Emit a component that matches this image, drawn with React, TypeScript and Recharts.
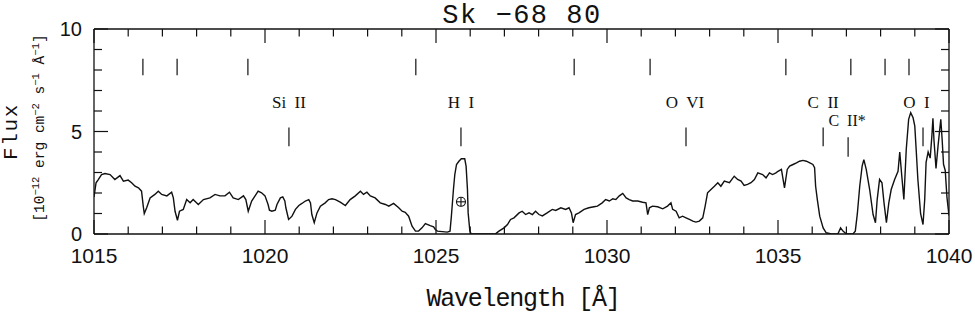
import { ComposedChart, Line, XAxis, YAxis, Scatter, ReferenceLine } from 'recharts'

// spectrum of Sk -68 80 (wavelength in Å, flux in 1e-12 erg/cm2/s/Å)
const WAVE = [
  1015.0, 1015.06, 1015.13, 1015.22, 1015.32, 1015.47, 1015.61, 1015.76, 1015.86, 1016.0,
  1016.1, 1016.2, 1016.3, 1016.39, 1016.44, 1016.47, 1016.54, 1016.64, 1016.78, 1016.88,
  1016.98, 1017.13, 1017.27, 1017.32, 1017.37, 1017.44, 1017.5, 1017.61, 1017.71, 1017.81,
  1017.9, 1018.05, 1018.2, 1018.39, 1018.54, 1018.68, 1018.83, 1018.96, 1019.07, 1019.22,
  1019.37, 1019.44, 1019.51, 1019.61, 1019.71, 1019.8, 1019.9, 1020.0, 1020.09, 1020.13,
  1020.2, 1020.3, 1020.35, 1020.45, 1020.52, 1020.58, 1020.61, 1020.69, 1020.79, 1020.89,
  1020.99, 1021.08, 1021.18, 1021.28, 1021.33, 1021.37, 1021.44, 1021.52, 1021.62, 1021.76,
  1021.86, 1021.96, 1022.06, 1022.2, 1022.35, 1022.49, 1022.64, 1022.79, 1022.88, 1022.98,
  1023.08, 1023.22, 1023.37, 1023.52, 1023.62, 1023.76, 1023.91, 1024.01, 1024.1, 1024.2,
  1024.3, 1024.4, 1024.49, 1024.59, 1024.69, 1024.83, 1024.93, 1024.98, 1025.04, 1025.33,
  1025.41, 1025.45, 1025.51, 1025.55, 1025.6, 1025.67, 1025.74, 1025.84, 1025.88, 1025.92,
  1025.94, 1025.99, 1026.03, 1026.5, 1026.75, 1026.84, 1026.99, 1027.09, 1027.18, 1027.28,
  1027.43, 1027.52, 1027.62, 1027.72, 1027.82, 1027.91, 1028.01, 1028.11, 1028.25, 1028.4,
  1028.5, 1028.65, 1028.79, 1028.89, 1028.96, 1029.01, 1029.08, 1029.18, 1029.33, 1029.47,
  1029.62, 1029.72, 1029.86, 1029.96, 1030.07, 1030.17, 1030.26, 1030.36, 1030.46, 1030.56,
  1030.65, 1030.75, 1030.9, 1031.04, 1031.14, 1031.19, 1031.24, 1031.33, 1031.48, 1031.63,
  1031.77, 1031.87, 1031.92, 1032.02, 1032.11, 1032.21, 1032.31, 1032.41, 1032.51, 1032.6,
  1032.7, 1032.8, 1032.87, 1032.94, 1033.04, 1033.14, 1033.24, 1033.33, 1033.43, 1033.58,
  1033.72, 1033.82, 1033.92, 1034.01, 1034.11, 1034.21, 1034.31, 1034.41, 1034.55, 1034.65,
  1034.75, 1034.84, 1034.94, 1035.0, 1035.1, 1035.19, 1035.27, 1035.34, 1035.44, 1035.54,
  1035.63, 1035.73, 1035.83, 1035.93, 1036.02, 1036.07, 1036.1, 1036.15, 1036.22, 1036.32,
  1036.41, 1036.56, 1036.75, 1036.83, 1036.9, 1037.0, 1037.19, 1037.26, 1037.32, 1037.39,
  1037.46, 1037.51, 1037.58, 1037.68, 1037.78, 1037.85, 1037.9, 1037.97, 1038.04, 1038.1,
  1038.17, 1038.24, 1038.31, 1038.41, 1038.51, 1038.56, 1038.62, 1038.68, 1038.75, 1038.82,
  1038.88, 1038.95, 1039.0, 1039.04, 1039.09, 1039.17, 1039.24, 1039.29, 1039.33, 1039.39,
  1039.45, 1039.5, 1039.53, 1039.56, 1039.62, 1039.68, 1039.76, 1039.8, 1039.84, 1039.89,
  1039.94, 1040.0,
]
const FLUX = [
  1.8, 2.5, 2.66, 2.9, 2.95, 2.9, 2.66, 2.85, 2.58, 2.63,
  2.5, 2.33, 2.25, 2.09, 1.36, 1.0, 1.28, 1.76, 1.93, 2.09,
  1.93, 1.86, 2.04, 1.76, 1.11, 0.67, 1.11, 1.2, 1.68, 1.52,
  1.68, 1.44, 1.68, 1.76, 1.93, 1.86, 1.86, 2.04, 1.76, 1.68,
  1.86, 1.68, 1.11, 1.61, 1.86, 2.09, 2.01, 1.86, 1.44, 1.16,
  1.11, 1.16, 1.44, 1.76, 1.81, 1.61, 1.28, 0.71, 0.87, 1.2,
  1.39, 1.49, 1.61, 1.68, 1.52, 0.95, 0.55, 1.03, 1.36, 1.52,
  1.68, 1.72, 1.68, 1.55, 1.39, 1.68, 1.86, 2.09, 1.93, 2.04,
  1.86, 1.76, 1.52, 1.44, 1.36, 1.49, 1.28, 1.11, 1.06, 0.87,
  0.38, 0.14, 0.14, 0.3, 0.51, 0.41, 0.35, 0.22, 0.14, 0.09,
  0.14, 0.87, 2.17, 2.9, 3.39, 3.55, 3.67, 3.67, 3.31, 2.17,
  1.03, 0.14, 0.0, 0.0, 0.02, 0.14, 0.3, 0.46, 0.71, 0.79,
  1.03, 1.11, 0.95, 1.03, 0.95, 1.11, 0.95, 0.88, 1.03, 1.2,
  1.15, 1.28, 1.2, 1.28, 1.03, 0.55, 0.95, 1.03, 1.2, 1.28,
  1.33, 1.36, 1.52, 1.68, 1.61, 1.72, 1.68, 1.86, 1.98, 1.76,
  1.68, 1.61, 1.61, 1.55, 1.52, 0.95, 1.28, 1.36, 1.33, 1.23,
  1.36, 1.52, 1.2, 1.11, 0.79, 0.87, 0.79, 0.71, 0.63, 0.58,
  0.63, 0.79, 1.36, 2.01, 2.17, 2.33, 2.5, 2.33, 2.58, 2.5,
  2.82, 2.66, 2.58, 2.37, 2.42, 2.5, 2.66, 2.98, 2.9, 2.74,
  2.98, 2.9, 2.98, 3.06, 3.15, 2.25, 3.15, 3.31, 3.39, 3.47,
  3.55, 3.59, 3.55, 3.47, 3.39, 3.23, 2.33, 1.68, 0.87, 0.3,
  0.06, 0.0, 0.0, 0.3, 0.14, 0.0, 0.0, 0.14, 0.99, 2.33,
  3.31, 3.63, 3.15, 2.17, 0.95, 0.55, 1.68, 2.66, 2.5, 1.52,
  0.55, 1.52, 2.17, 2.66, 3.06, 4.0, 2.82, 1.68, 4.12, 5.59,
  5.92, 5.67, 5.26, 4.12, 2.66, 0.99, 0.46, 1.68, 3.5, 4.0,
  3.7, 4.8, 5.65, 4.6, 3.2, 4.3, 5.6, 4.6, 3.4, 3.1,
  1.8, 0.9,
]

// unlabelled line marks (upper row)
const H2_WAVES = [1016.43, 1017.43, 1019.5, 1024.41, 1029.04, 1031.26, 1035.23, 1037.13, 1038.13, 1038.83]
const H2_SPAN = [7.75, 8.55]

// labelled ions
const ION_NAMES = ['Si  II', 'H  I', 'O  VI', 'C  II', 'C  II*', 'O  I']
const ION_WAVES = [1020.7, 1025.73, 1032.31, 1036.32, 1037.05, 1039.24]
const ION_TEXT_WAVES = [1020.7, 1025.73, 1032.28, 1036.32, 1037.02, 1039.05]
const ION_TEXT_FLUX = [6.17, 6.17, 6.17, 6.17, 5.29, 6.17]
const ION_LO = [4.28, 4.28, 4.28, 4.28, 3.77, 4.28]
const ION_HI = [5.2, 5.2, 5.2, 5.2, 4.72, 5.2]

// geocoronal mark
const EARTH_WAVE = 1025.73
const EARTH_FLUX = 1.57

const X_TICKS = [1015, 1016, 1017, 1018, 1019, 1020, 1021, 1022, 1023, 1024, 1025, 1026, 1027,
  1028, 1029, 1030, 1031, 1032, 1033, 1034, 1035, 1036, 1037, 1038, 1039, 1040]
const Y_TICKS = [0, 1, 2, 3, 4, 5, 6, 7, 8, 9, 10]

const spectrum = WAVE.map((w, i) => ({ w, f: FLUX[i] }))
const ionLabels = ION_NAMES.map((name, i) => ({ w: ION_TEXT_WAVES[i], f: ION_TEXT_FLUX[i], name }))
const earth = [{ w: EARTH_WAVE, f: EARTH_FLUX }]

const INK = '#111'
const MONO = '"Liberation Mono", "DejaVu Sans Mono", monospace'
const SANS = '"Liberation Sans", Arial, sans-serif'

function BottomTick(p: any) {
  const major = p.payload.value % 5 === 0
  return (
    <g>
      <line x1={p.x} x2={p.x} y1={p.y} y2={p.y - (major ? 14 : 7.5)} stroke={INK} strokeWidth={1.2} />
      {major && (
        <text x={p.x} y={p.y + 28.5} textAnchor="middle" fontFamily={SANS} fontSize={21} fill={INK}>
          {p.payload.value}
        </text>
      )}
    </g>
  )
}

function TopTick(p: any) {
  const major = p.payload.value % 5 === 0
  return <line x1={p.x} x2={p.x} y1={p.y} y2={p.y + (major ? 14 : 7.5)} stroke={INK} strokeWidth={1.2} />
}

function LeftTick(p: any) {
  const major = p.payload.value % 5 === 0
  return (
    <g>
      <line x1={p.x} x2={p.x + (major ? 14 : 8)} y1={p.y} y2={p.y} stroke={INK} strokeWidth={1.2} />
      {major && (
        <text x={p.x - 12} y={p.y + 7} textAnchor="end" fontFamily={SANS} fontSize={20} fill={INK}>
          {p.payload.value}
        </text>
      )}
    </g>
  )
}

function RightTick(p: any) {
  const major = p.payload.value % 5 === 0
  return <line x1={p.x} x2={p.x - (major ? 14 : 8)} y1={p.y} y2={p.y} stroke={INK} strokeWidth={1.2} />
}

function IonText(p: any) {
  return (
    <text x={p.cx} y={p.cy} textAnchor="middle" fontFamily='"Liberation Serif", serif'
      fontSize={p.payload.name === 'C  II*' ? 16 : 17} fill={INK} style={{ whiteSpace: 'pre' }}>
      {p.payload.name}
    </text>
  )
}

function EarthSymbol(p: any) {
  const r = 4.5
  return (
    <g stroke={INK} strokeWidth={1.1} fill="none">
      <circle cx={p.cx} cy={p.cy} r={r} />
      <line x1={p.cx - r} x2={p.cx + r} y1={p.cy} y2={p.cy} />
      <line x1={p.cx} x2={p.cx} y1={p.cy - r} y2={p.cy + r} />
    </g>
  )
}

export default function App() {
  return (
    <div style={{ position: 'absolute', left: 0, top: 0, width: 975, height: 314, background: '#fff' }}>
      <ComposedChart width={975} height={314} data={spectrum} margin={{ top: 0, right: 0, bottom: 0, left: 0 }}>
        <XAxis dataKey="w" type="number" domain={[1015, 1040]} ticks={X_TICKS} interval={0}
          allowDataOverflow height={80} tickLine={false} tickSize={0} tickMargin={0}
          axisLine={{ stroke: INK, strokeWidth: 1.3 }} tick={(p: any) => <BottomTick {...p} />} />
        <XAxis xAxisId="t" orientation="top" dataKey="w" type="number" domain={[1015, 1040]} ticks={X_TICKS}
          interval={0} allowDataOverflow height={29} tickLine={false} tickSize={0} tickMargin={0}
          axisLine={{ stroke: INK, strokeWidth: 1.3 }} tick={(p: any) => <TopTick {...p} />} />
        <YAxis type="number" domain={[0, 10]} ticks={Y_TICKS} interval={0} allowDataOverflow width={94}
          tickLine={false} tickSize={0} tickMargin={0} axisLine={{ stroke: INK, strokeWidth: 1.3 }}
          tick={(p: any) => <LeftTick {...p} />} />
        <YAxis yAxisId="r" orientation="right" type="number" domain={[0, 10]} ticks={Y_TICKS} interval={0}
          allowDataOverflow width={26} tickLine={false} tickSize={0} tickMargin={0}
          axisLine={{ stroke: INK, strokeWidth: 1.3 }} tick={(p: any) => <RightTick {...p} />} />

        {H2_WAVES.map((w) => (
          <ReferenceLine key={'h2' + w} segment={[{ x: w, y: H2_SPAN[0] }, { x: w, y: H2_SPAN[1] }]}
            stroke={INK} strokeWidth={1.2} ifOverflow="visible" />
        ))}
        {ION_WAVES.map((w, i) => (
          <ReferenceLine key={'ion' + w} segment={[{ x: w, y: ION_LO[i] }, { x: w, y: ION_HI[i] }]}
            stroke={INK} strokeWidth={1.2} ifOverflow="visible" />
        ))}

        <Line dataKey="f" type="linear" stroke={INK} strokeWidth={1.4} dot={false}
          isAnimationActive={false} />
        <Scatter data={ionLabels} dataKey="f" shape={(p: any) => <IonText {...p} />} isAnimationActive={false} />
        <Scatter data={earth} dataKey="f" xAxisId="t" yAxisId="r" shape={(p: any) => <EarthSymbol {...p} />}
          isAnimationActive={false} />
      </ComposedChart>

      <svg width={975} height={314} style={{ position: 'absolute', left: 0, top: 0, pointerEvents: 'none' }}>
        <text x={522} y={22.5} textAnchor="middle" fontFamily={MONO} fontSize={27} letterSpacing={1.5} fill={INK}>
          Sk −68 80
        </text>
        <text x={523} y={306} textAnchor="middle" fontFamily={MONO} fontSize={25} letterSpacing={-1.2} fill={INK}>
          Wavelength [Å]
        </text>
        <text transform="translate(17,131.5) rotate(-90)" textAnchor="middle" fontFamily={MONO} fontSize={21}
          letterSpacing={1.6} fill={INK}>
          Flux
        </text>
        <text transform="translate(44,128) rotate(-90)" textAnchor="middle" fontFamily={MONO} fontSize={14.5} fill={INK}>
          [10<tspan dy={-5} fontSize={10.5}>−12</tspan>
          <tspan dy={5}> erg cm</tspan>
          <tspan dy={-5} fontSize={10.5}>−2</tspan>
          <tspan dy={5}> s</tspan>
          <tspan dy={-5} fontSize={10.5}>−1</tspan>
          <tspan dy={5}> Å</tspan>
          <tspan dy={-5} fontSize={10.5}>−1</tspan>
          <tspan dy={5}>]</tspan>
        </text>
      </svg>
    </div>
  )
}
